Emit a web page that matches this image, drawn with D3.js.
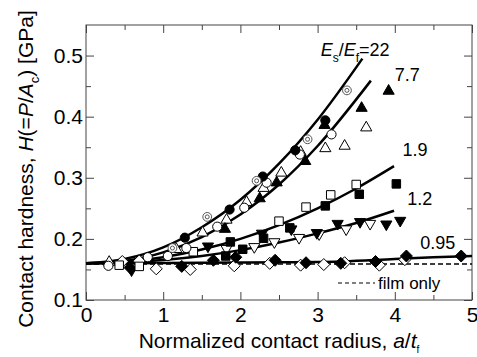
<!DOCTYPE html>
<html>
<head>
<meta charset="utf-8">
<script src="https://cdn.jsdelivr.net/npm/d3@7"></script>
<style>
  body { margin: 0; background: #fff; }
  svg text { font-family: "Liberation Sans", Arial, sans-serif; fill: #000; }
</style>
</head>
<body>
<svg id="chart" width="477" height="357"></svg>
<script>
// tick values
const xTicks = [0, 1, 2, 3, 4, 5];
const yTicks = [0.1, 0.2, 0.3, 0.4, 0.5];

// fitted curves as [a/t_f, H]
const curve22 = [[0, 0.16], [0.5, 0.167], [1, 0.186], [1.5, 0.219], [2, 0.264], [2.5, 0.323], [3, 0.395], [3.58, 0.495]];
const curve77 = [[0, 0.16], [0.5, 0.164], [1, 0.178], [1.5, 0.203], [2, 0.240], [2.5, 0.289], [3, 0.352], [3.69, 0.459]];
const curve19 = [[0, 0.16], [0.5, 0.1625], [1, 0.170], [1.5, 0.1825], [2, 0.200], [2.5, 0.2225], [3, 0.250], [3.5, 0.2825], [3.99, 0.319]];
const curve12 = [[0, 0.16], [1, 0.1654], [1.5, 0.172], [2, 0.1816], [2.5, 0.194], [3, 0.209], [3.5, 0.226], [3.99, 0.246]];
const curve095 = [[0, 0.16], [1, 0.1605], [2, 0.1615], [3, 0.162], [4, 0.167], [4.5, 0.170], [5, 0.172]];
const filmOnly = [[0, 0.159], [5, 0.159]];

// measured points, [a/t_f, H]
const bullseye = [[1.12, 0.185], [1.57, 0.236], [2.21, 0.295], [2.87, 0.363], [3.38, 0.443]];
const circleFilled = [[1.28, 0.202], [1.86, 0.248], [2.29, 0.302], [2.71, 0.345], [3.10, 0.394]];
const circleOpen = [[0.29, 0.156], [0.80, 0.170], [1.06, 0.172], [1.30, 0.185], [1.70, 0.220], [2.05, 0.251], [2.34, 0.292], [2.77, 0.338], [3.18, 0.371]];
const triUpOpen = [[0.30, 0.162], [1.17, 0.183], [1.51, 0.210], [1.82, 0.231], [2.08, 0.260], [2.30, 0.283], [2.53, 0.308], [2.78, 0.342], [3.10, 0.348], [3.35, 0.352], [3.63, 0.382]];
const triUpFilled = [[1.80, 0.216], [2.25, 0.266], [2.47, 0.292], [2.84, 0.327], [3.09, 0.386], [3.57, 0.414], [3.92, 0.442]];
const squareOpen = [[0.43, 0.157], [0.69, 0.155], [1.39, 0.179], [2.50, 0.229], [2.85, 0.252], [3.17, 0.272], [3.50, 0.289]];
const squareFilled = [[1.81, 0.172], [1.87, 0.195], [2.03, 0.183], [2.30, 0.201], [2.64, 0.218], [3.10, 0.254], [3.54, 0.273], [4.02, 0.290]];
const triDownOpen = [[1.82, 0.184], [2.18, 0.187], [2.44, 0.195], [2.76, 0.202], [3.02, 0.208], [3.37, 0.216], [3.68, 0.225]];
const triDownFilled = [[0.59, 0.149], [1.58, 0.188], [2.28, 0.209], [2.66, 0.216], [2.99, 0.210], [3.26, 0.225], [3.55, 0.228], [3.89, 0.224], [4.07, 0.230]];
const diamondFilled = [[0.57, 0.153], [1.24, 0.155], [1.65, 0.165], [1.94, 0.170], [2.45, 0.165], [2.85, 0.161], [3.30, 0.160], [3.75, 0.163], [4.15, 0.172], [4.86, 0.172]];
const diamondOpen = [[0.47, 0.163], [0.69, 0.164], [0.91, 0.151], [1.35, 0.150], [1.92, 0.156], [2.38, 0.160], [2.78, 0.157], [3.08, 0.158], [3.35, 0.161], [3.80, 0.157], [4.13, 0.166]];

// curve labels: text and the point they sit at
const ratioLabels = ["7.7", "1.9", "1.2", "0.95"];
const ratioLabelPos = [[4.0, 0.458], [4.1, 0.335], [4.16, 0.256], [4.33, 0.183]];

const svg = d3.select("#chart");
const mLeft = 86, mRight = 472, mTop = 25, mBottom = 300;
const x = d3.scaleLinear().domain([0, 5]).range([mLeft, mRight]);
const y = d3.scaleLinear().domain([0.1, 0.55]).range([mBottom, mTop]);

const axisColor = "#444";

// frame
svg.append("rect")
    .attr("x", mLeft).attr("y", mTop)
    .attr("width", mRight - mLeft).attr("height", mBottom - mTop)
    .attr("fill", "none").attr("stroke", axisColor).attr("stroke-width", 1);

// minor ticks (every 0.5 on x and 0.05 on y), all pointing inward
const xMinor = d3.range(0.5, 5, 1);
const yMinor = d3.range(0.15, 0.55, 0.1);

function styleAxis(g) {
    g.select(".domain").remove();
    g.selectAll("line").attr("stroke", axisColor);
    g.selectAll("text").attr("font-size", 21).attr("fill", "#000");
}

svg.append("g").attr("transform", `translate(0,${mBottom})`)
    .call(d3.axisBottom(x).tickValues(xTicks).tickFormat(d3.format("d")).tickSize(-8).tickPadding(7))
    .call(styleAxis);
svg.append("g").attr("transform", `translate(0,${mBottom})`)
    .call(d3.axisBottom(x).tickValues(xMinor).tickFormat("").tickSize(-5))
    .call(styleAxis);
svg.append("g").attr("transform", `translate(0,${mTop})`)
    .call(d3.axisTop(x).tickValues(xTicks).tickFormat("").tickSize(-8))
    .call(styleAxis);
svg.append("g").attr("transform", `translate(0,${mTop})`)
    .call(d3.axisTop(x).tickValues(xMinor).tickFormat("").tickSize(-5))
    .call(styleAxis);

svg.append("g").attr("transform", `translate(${mLeft},0)`)
    .call(d3.axisLeft(y).tickValues(yTicks).tickFormat(d3.format(".1f")).tickSize(-8).tickPadding(3))
    .call(styleAxis);
svg.append("g").attr("transform", `translate(${mLeft},0)`)
    .call(d3.axisLeft(y).tickValues(yMinor).tickFormat("").tickSize(-5))
    .call(styleAxis);
svg.append("g").attr("transform", `translate(${mRight},0)`)
    .call(d3.axisRight(y).tickValues(yTicks).tickFormat("").tickSize(-8))
    .call(styleAxis);
svg.append("g").attr("transform", `translate(${mRight},0)`)
    .call(d3.axisRight(y).tickValues(yMinor).tickFormat("").tickSize(-5))
    .call(styleAxis);

// curves
const line = d3.line()
    .x(d => x(d[0]))
    .y(d => y(d[1]))
    .curve(d3.curveMonotoneX);

const plot = svg.append("g");

plot.append("path").datum(filmOnly)
    .attr("d", line)
    .attr("fill", "none").attr("stroke", "#000")
    .attr("stroke-width", 1.5).attr("stroke-dasharray", "5,3");

[curve095, curve12, curve19, curve77, curve22].forEach(c => {
    plot.append("path").datum(c)
        .attr("d", line)
        .attr("fill", "none").attr("stroke", "#000")
        .attr("stroke-width", 2.5);
});

// markers
function diamondPath(r) {
    return `M0,${-r}L${r},0L0,${r}L${-r},0Z`;
}

function drawPoints(data, pathStr, filled, rotate) {
    plot.append("g").selectAll("path")
        .data(data)
        .join("path")
        .attr("d", pathStr)
        .attr("transform", d => `translate(${x(d[0])},${y(d[1])})` + (rotate ? " rotate(180)" : ""))
        .attr("fill", filled ? "#000" : "#fff")
        .attr("stroke", "#000")
        .attr("stroke-width", 1);
}

const triPath = d3.symbol(d3.symbolTriangle, 54)();
const sqPath = d3.symbol(d3.symbolSquare, 72)();
const circPath = d3.symbol(d3.symbolCircle, 66)();

drawPoints(diamondOpen, diamondPath(6), false, false);
drawPoints(diamondFilled, diamondPath(6), true, false);
drawPoints(triDownOpen, triPath, false, true);
drawPoints(triDownFilled, triPath, true, true);
drawPoints(squareOpen, sqPath, false, false);
drawPoints(squareFilled, sqPath, true, false);
drawPoints(triUpOpen, triPath, false, false);
drawPoints(triUpFilled, triPath, true, false);
drawPoints(circleOpen, circPath, false, false);
drawPoints(circleFilled, circPath, true, false);

const bull = plot.append("g").selectAll("g")
    .data(bullseye)
    .join("g")
    .attr("transform", d => `translate(${x(d[0])},${y(d[1])})`);
bull.append("circle").attr("r", 4.4).attr("fill", "#fff").attr("stroke", "#555").attr("stroke-width", 1);
bull.append("circle").attr("r", 2).attr("fill", "none").attr("stroke", "#555").attr("stroke-width", 1);

// curve labels
const lab22 = svg.append("text")
    .attr("x", x(3.04)).attr("y", y(0.5))
    .attr("font-size", 18);
lab22.append("tspan").attr("font-style", "italic").text("E");
lab22.append("tspan").attr("font-size", 12).attr("dy", 6).text("s");
lab22.append("tspan").attr("dy", -6).text("/");
lab22.append("tspan").attr("font-style", "italic").text("E");
lab22.append("tspan").attr("font-size", 12).attr("dy", 6).text("f");
lab22.append("tspan").attr("dy", -6).text("=22");

svg.append("g").selectAll("text")
    .data(ratioLabels)
    .join("text")
    .attr("x", (d, i) => x(ratioLabelPos[i][0]))
    .attr("y", (d, i) => y(ratioLabelPos[i][1]))
    .attr("font-size", 18)
    .text(d => d);

// legend for film only
svg.append("line")
    .attr("x1", 338).attr("x2", 375)
    .attr("y1", 283).attr("y2", 283)
    .attr("stroke", "#000").attr("stroke-width", 1.2)
    .attr("stroke-dasharray", "4,3");
svg.append("text")
    .attr("x", 378).attr("y", 289)
    .attr("font-size", 17)
    .text("film only");

// axis titles
const xt = svg.append("text")
    .attr("x", (mLeft + mRight) / 2).attr("y", 348)
    .attr("text-anchor", "middle")
    .attr("font-size", 21);
xt.append("tspan").text("Normalized contact radius,  ");
xt.append("tspan").attr("font-style", "italic").text("a");
xt.append("tspan").text("/");
xt.append("tspan").attr("font-style", "italic").text("t");
xt.append("tspan").attr("font-size", 10).attr("dy", 5).text("f");

const yt = svg.append("text")
    .attr("transform", "translate(33,169) rotate(-90)")
    .attr("text-anchor", "middle")
    .attr("font-size", 21);
yt.append("tspan").text("Contact hardness,  ");
yt.append("tspan").attr("font-style", "italic").text("H");
yt.append("tspan").text("(=");
yt.append("tspan").attr("font-style", "italic").text("P");
yt.append("tspan").text("/");
yt.append("tspan").attr("font-style", "italic").text("A");
yt.append("tspan").attr("font-size", 13).attr("dy", 6).text("c");
yt.append("tspan").attr("dy", -6).text(") [GPa]");
</script>
</body>
</html>
